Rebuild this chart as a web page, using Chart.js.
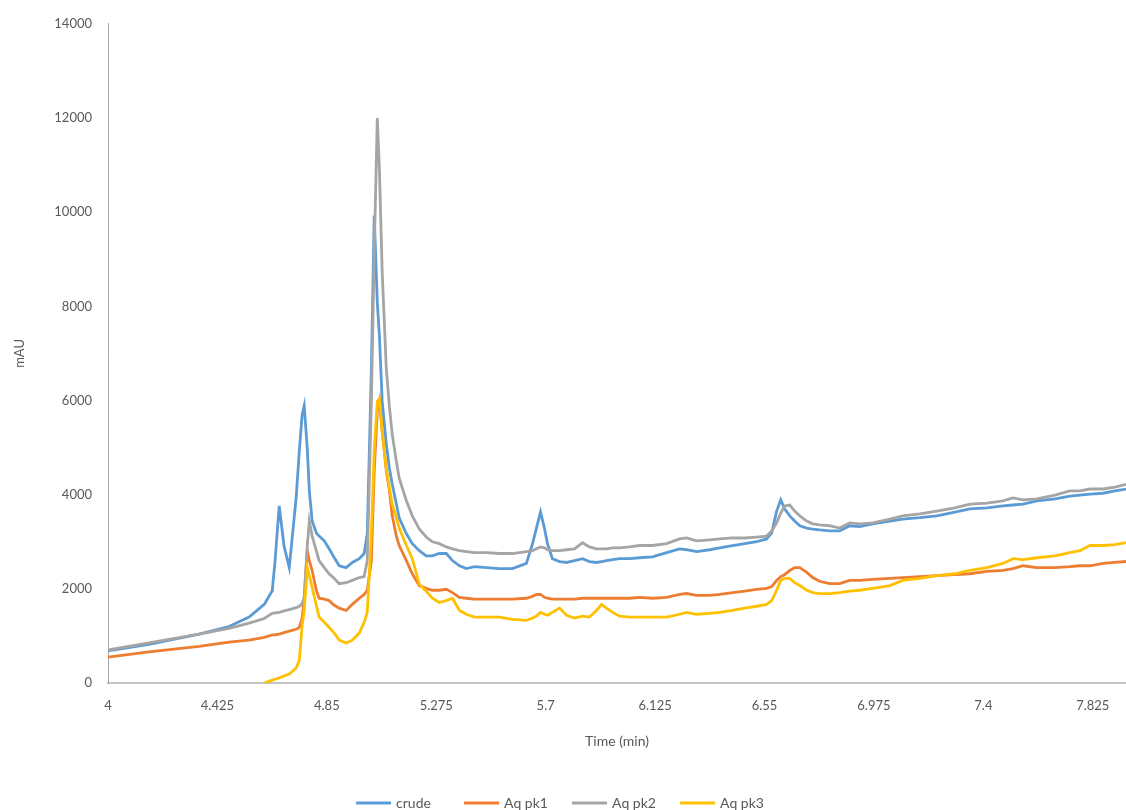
<!DOCTYPE html>
<html>
<head>
<meta charset="utf-8">
<title>Chromatogram</title>
<script src="https://cdn.jsdelivr.net/npm/chart.js@4.4.1/dist/chart.umd.min.js"></script>
<style>
  html, body { margin: 0; padding: 0; background: #ffffff; overflow: hidden; }
  #wrap { width: 1126px; height: 810px; }
</style>
</head>
<body>
<div id="wrap"><canvas id="chart" width="1126" height="810"></canvas></div>
<script>
// Retention time (min)
const timeMin = [
  4.000, 4.159, 4.354, 4.470, 4.548, 4.607, 4.638, 4.649, 4.665, 4.684,
  4.704, 4.731, 4.743, 4.754, 4.762, 4.774, 4.782, 4.793, 4.809, 4.820,
  4.840, 4.859, 4.879, 4.898, 4.925, 4.949, 4.976, 4.995, 5.007, 5.023,
  5.034, 5.046, 5.054, 5.065, 5.081, 5.093, 5.104, 5.120, 5.131, 5.159,
  5.182, 5.209, 5.236, 5.260, 5.287, 5.314, 5.338, 5.365, 5.392, 5.423,
  5.470, 5.520, 5.571, 5.625, 5.649, 5.664, 5.680, 5.695, 5.707, 5.726,
  5.754, 5.781, 5.812, 5.843, 5.870, 5.897, 5.917, 5.936, 5.960, 5.987,
  6.026, 6.065, 6.115, 6.170, 6.220, 6.247, 6.286, 6.337, 6.376, 6.426,
  6.473, 6.519, 6.558, 6.578, 6.597, 6.613, 6.628, 6.648, 6.667, 6.687,
  6.714, 6.737, 6.764, 6.803, 6.842, 6.881, 6.920, 6.970, 7.037, 7.087,
  7.153, 7.219, 7.289, 7.348, 7.414, 7.476, 7.515, 7.554, 7.608, 7.678,
  7.736, 7.775, 7.814, 7.865, 7.911, 7.954
];

// Detector response (mAU) for each sample
const crude = [
  680, 820, 1040, 1200, 1400, 1670, 1960, 2600, 3760, 2900,
  2450, 3950, 4920, 5700, 5890, 4980, 4080, 3440, 3190, 3120,
  3020, 2850, 2660, 2490, 2450, 2560, 2640, 2750, 3170, 6670,
  9930, 8090, 7390, 5980, 5070, 4560, 4220, 3800, 3510, 3170,
  2960, 2810, 2700, 2700, 2750, 2750, 2600, 2490, 2430, 2470,
  2450, 2430, 2430, 2540, 2960, 3290, 3630, 3290, 2960, 2640,
  2580, 2560, 2600, 2640, 2580, 2560, 2580, 2600, 2620, 2640,
  2640, 2660, 2680, 2770, 2850, 2830, 2790, 2830, 2870, 2920,
  2960, 3000, 3060, 3190, 3650, 3890, 3700, 3550, 3440, 3340,
  3290, 3270, 3250, 3230, 3230, 3340, 3320, 3380, 3440, 3480,
  3510, 3550, 3630, 3700, 3720, 3760, 3780, 3800, 3870, 3910,
  3970, 3990, 4010, 4030, 4080, 4120
];

const aqPk1 = [
  550, 660, 780, 870, 910, 970, 1020, 1025, 1040, 1070,
  1100, 1140, 1180, 1370, 1810, 2810, 2600, 2390, 1970, 1800,
  1780, 1750, 1650, 1590, 1540, 1670, 1800, 1880, 1970, 2600,
  4500, 5770, 5980, 5340, 4500, 4080, 3550, 3120, 2920, 2600,
  2320, 2070, 2010, 1970, 1970, 1990, 1920, 1820, 1800, 1780,
  1780, 1780, 1780, 1800, 1840, 1880, 1880, 1820, 1800, 1780,
  1780, 1780, 1780, 1800, 1800, 1800, 1800, 1800, 1800, 1800,
  1800, 1820, 1800, 1820, 1880, 1900, 1860, 1860, 1880, 1920,
  1950, 1990, 2010, 2050, 2180, 2260, 2300, 2390, 2450, 2450,
  2350, 2240, 2160, 2110, 2110, 2180, 2180, 2200, 2220, 2240,
  2260, 2280, 2300, 2320, 2370, 2390, 2430, 2490, 2450, 2450,
  2470, 2490, 2490, 2540, 2560, 2580
];

const aqPk2 = [
  700, 850, 1040, 1160, 1270, 1370, 1480, 1490, 1500, 1530,
  1560, 1600, 1630, 1690, 1810, 2910, 3440, 3120, 2810, 2600,
  2450, 2320, 2220, 2110, 2130, 2180, 2240, 2260, 2600, 5980,
  9150, 12000, 10940, 8720, 6670, 5870, 5280, 4710, 4350, 3870,
  3550, 3270, 3100, 3000, 2960, 2890, 2850, 2810, 2790, 2770,
  2770, 2750, 2750, 2790, 2810, 2850, 2890, 2870, 2830, 2810,
  2810, 2830, 2850, 2980, 2890, 2850, 2850, 2850, 2870, 2870,
  2890, 2920, 2920, 2960, 3060, 3080, 3020, 3040, 3060, 3080,
  3080, 3100, 3120, 3230, 3400, 3610, 3760, 3780, 3650, 3550,
  3440, 3380, 3360, 3340, 3290, 3400, 3380, 3400, 3480, 3550,
  3590, 3650, 3720, 3800, 3820, 3870, 3930, 3890, 3910, 3990,
  4080, 4080, 4120, 4120, 4160, 4220
];

const aqPk3 = [
  null, null, null, null, null, 0, 60, 80, 110, 150,
  190, 320, 480, 1220, 1540, 2450, 2280, 2030, 1650, 1400,
  1290, 1180, 1060, 910, 850, 910, 1060, 1290, 1500, 3170,
  4920, 5980, 6040, 5340, 4560, 4140, 3800, 3510, 3290, 2920,
  2640, 2100, 1950, 1800, 1710, 1750, 1800, 1540, 1460, 1400,
  1400, 1400, 1350, 1330, 1380, 1420, 1500, 1460, 1440, 1500,
  1590, 1440, 1380, 1420, 1400, 1540, 1670, 1590, 1500, 1420,
  1400, 1400, 1400, 1400, 1460, 1500, 1460, 1480, 1500, 1540,
  1590, 1630, 1670, 1750, 1970, 2180, 2220, 2220, 2130, 2070,
  1970, 1920, 1900, 1900, 1920, 1950, 1970, 2010, 2070, 2180,
  2220, 2280, 2320, 2390, 2450, 2540, 2640, 2620, 2660, 2700,
  2770, 2810, 2920, 2920, 2940, 2980
];

// Axis tick labels
const timeTicks = [4, 4.425, 4.85, 5.275, 5.7, 6.125, 6.55, 6.975, 7.4, 7.825];
const mAUTicks = [0, 2000, 4000, 6000, 8000, 10000, 12000, 14000];

const seriesNames = ['crude', 'Aq pk1', 'Aq pk2', 'Aq pk3'];
const seriesColors = ['#5B9BD5', '#ED7D31', '#A5A5A5', '#FFC000'];
const seriesValues = [crude, aqPk1, aqPk2, aqPk3];

const FONT = 'Lato, "Open Sans", "DejaVu Sans", sans-serif';
const TEXT = '#595959';

const datasets = seriesNames.map((name, i) => ({
  label: name,
  data: timeMin.map((t, k) => ({ x: t, y: seriesValues[i][k] })),
  borderColor: seriesColors[i],
  backgroundColor: seriesColors[i],
  borderWidth: 2.8,
  pointRadius: 0,
  tension: 0,
  spanGaps: false,
  order: seriesNames.length - i   // later series drawn on top
}));

// Legend: equal-width slots, each a short line sample followed by the series name
const lineLegend = {
  id: 'lineLegend',
  afterDraw(chart) {
    const ctx = chart.ctx;
    const sampleLen = 35, gap = 5, pitch = 108, cy = 803, cx = 560;
    ctx.save();
    ctx.font = '14px ' + FONT;
    ctx.textBaseline = 'middle';
    ctx.textAlign = 'left';
    const lastW = sampleLen + gap + ctx.measureText(seriesNames[seriesNames.length - 1]).width;
    const total = pitch * (seriesNames.length - 1) + lastW;
    const x0 = cx - total / 2;
    seriesNames.forEach((n, i) => {
      const x = x0 + i * pitch;
      ctx.strokeStyle = seriesColors[i];
      ctx.lineWidth = 2.8;
      ctx.beginPath();
      ctx.moveTo(x, cy);
      ctx.lineTo(x + sampleLen, cy);
      ctx.stroke();
      ctx.fillStyle = TEXT;
      ctx.fillText(n, x + sampleLen + gap, cy);
    });
    ctx.restore();
  }
};

new Chart(document.getElementById('chart'), {
  type: 'line',
  data: { datasets },
  plugins: [lineLegend],
  options: {
    responsive: false,
    animation: false,
    devicePixelRatio: 1,
    layout: { padding: { top: 20, right: 0, bottom: 0, left: 0 } },
    plugins: {
      legend: { display: false },
      tooltip: { enabled: false },
      title: { display: false }
    },
    scales: {
      x: {
        type: 'linear',
        min: timeMin[0],
        max: timeMin[timeMin.length - 1],
        afterBuildTicks: s => { s.ticks = timeTicks.map(v => ({ value: v })); },
        afterFit: s => { s.height = 127; },
        grid: { display: false, drawTicks: false },
        border: { display: true, color: '#c4c4c4', width: 2 },
        ticks: {
          autoSkip: false,
          maxRotation: 0,
          padding: 15,
          color: TEXT,
          font: { family: FONT, size: 13 },
          callback: v => String(v)
        },
        title: {
          display: true,
          text: 'Time (min)',
          color: TEXT,
          font: { family: FONT, size: 14 },
          padding: { top: 0, bottom: 60 }
        }
      },
      y: {
        type: 'linear',
        min: mAUTicks[0],
        max: mAUTicks[mAUTicks.length - 1],
        afterBuildTicks: s => { s.ticks = mAUTicks.map(v => ({ value: v })); },
        afterFit: s => { s.width = 108; },
        grid: { display: false, drawTicks: false },
        border: { display: true, color: '#a8a8a8', width: 1 },
        ticks: {
          padding: 16,
          color: TEXT,
          font: { family: FONT, size: 13 },
          callback: v => String(v)
        },
        title: {
          display: true,
          text: 'mAU',
          color: TEXT,
          font: { family: FONT, size: 13 },
          padding: { top: 12, bottom: 0 }
        }
      }
    }
  }
});
</script>
</body>
</html>
